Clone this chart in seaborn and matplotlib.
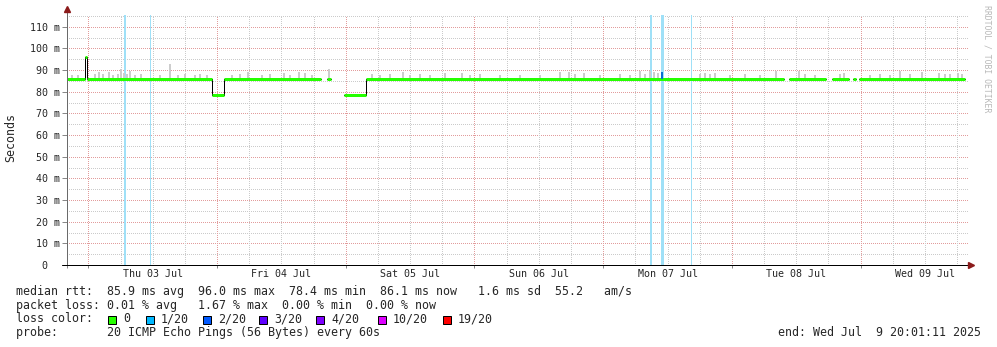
import numpy as np
import pandas as pd
import matplotlib
matplotlib.use("Agg")
import matplotlib.pyplot as plt
import seaborn as sns
from matplotlib.ticker import FixedLocator, FuncFormatter
from matplotlib.patches import Rectangle

# ---------------- data (hours since start = Wed 02 Jul 20:01:11) ----------------
seg_start_h = [0.0, 3.36, 3.73, 27.04, 29.28, 48.48, 51.65, 55.76, 134.64, 142.66, 146.57, 147.69]
seg_end_h = [3.36, 3.73, 27.04, 29.28, 47.37, 49.23, 55.76, 133.71, 141.54, 145.83, 147.13, 167.5]
seg_median_ms = [86.0, 96.0, 86.0, 78.4, 86.0, 86.0, 78.4, 86.0, 86.0, 86.0, 86.0, 86.0]

smoke_h = [0.93, 2.05, 5.22, 5.97, 6.71, 7.83, 8.58, 9.51, 10.07, 10.63, 11.19, 11.75, 12.68,
           13.80, 17.34, 19.21, 20.70, 22.00, 23.87, 24.80, 26.11, 30.77, 32.26, 33.75, 36.36,
           37.86, 40.47, 41.58, 43.26, 44.38, 45.69, 48.86, 56.88, 58.37, 60.23, 62.66, 63.96,
           65.83, 67.69, 70.49, 73.66, 75.15, 77.02, 80.75, 84.48, 88.20, 91.93, 93.61, 94.73,
           96.41, 99.39, 103.12, 104.99, 106.85, 107.79, 108.72, 109.46, 110.21, 118.04, 118.97,
           119.91, 120.84, 123.64, 126.43, 129.23, 132.21, 136.50, 137.62, 139.49, 144.15, 144.90,
           149.74, 151.61, 153.47, 155.34, 157.20, 159.44, 162.61, 163.73, 164.66, 166.15, 166.90]
smoke_top_ms = [87.8, 87.6, 88.2, 89.0, 88.0, 89.0, 87.7, 88.3, 90.7, 88.6, 88.0, 89.5, 87.8,
                88.2, 87.6, 93.0, 87.9, 88.1, 87.7, 88.0, 87.6, 87.9, 88.2, 89.0, 87.8,
                88.1, 88.5, 87.9, 89.0, 88.6, 87.8, 90.3, 88.0, 87.7, 88.1, 89.0, 87.8,
                88.2, 87.7, 88.5, 88.5, 87.8, 88.0, 87.6, 87.9, 87.7, 89.0, 89.0, 88.1,
                88.5, 87.8, 88.0, 87.7, 89.4, 88.3, 89.4, 89.0, 88.6, 88.2, 88.5,
                88.0, 88.4, 87.8, 88.0, 87.7, 89.4, 89.4, 88.0, 87.8, 88.3, 88.5,
                87.9, 88.1, 87.8, 89.4, 88.0, 89.0, 88.5, 88.2, 88.0, 88.5, 88.2]

loss_h = [10.8, 15.5, 108.9, 110.95, 116.5]
loss_frac = ["1/20", "1/20", "1/20", "1/20", "1/20"]

first_midnight_h = 3.98
day_labels = ["Thu 03 Jul", "Fri 04 Jul", "Sat 05 Jul", "Sun 06 Jul",
              "Mon 07 Jul", "Tue 08 Jul", "Wed 09 Jul"]
y_ticks_ms = [0, 10, 20, 30, 40, 50, 60, 70, 80, 90, 100, 110]

loss_labels = ["0", "1/20", "2/20", "3/20", "4/20", "10/20", "19/20"]
loss_colors = ["#26ff00", "#00b8ff", "#0059ff", "#5e00ff", "#7e00ff", "#dd00ff", "#ff0000"]

stat_lines = [
    "median rtt:  85.9 ms avg  96.0 ms max  78.4 ms min  86.1 ms now   1.6 ms sd  55.2   am/s",
    "packet loss: 0.01 % avg   1.67 % max  0.00 % min  0.00 % now",
    "loss color:",
    "probe:       20 ICMP Echo Pings (56 Bytes) every 60s",
]
end_text = "end: Wed Jul  9 20:01:11 2025"

# ---------------- style ----------------
sns.set_style("white")
plt.rcParams["font.family"] = ["DejaVu Sans Mono", "DejaVu Sans"]

W, H = 997, 347
fig = plt.figure(figsize=(W / 100, H / 100), dpi=100)
fig.patch.set_facecolor("white")
ax = fig.add_axes([67 / W, 82 / H, 901 / W, 250 / H])
ax.set_facecolor("white")
ax.set_xlim(0, 168)
ax.set_ylim(0, 115.4)
for s in ax.spines.values():
    s.set_visible(False)

px = 0.72  # one pixel in points
h_per_px = 168 / 901
pink = "#e29c9c"
grey = "#cbcbcb"
dot = (0, (1, 2))

# grid
ax.yaxis.set_major_locator(FixedLocator(y_ticks_ms))
ax.yaxis.set_minor_locator(FixedLocator([v + 5 for v in y_ticks_ms]))
ax.set_yticklabels([f"{v} m" if v else "0\u00a0\u00a0" for v in y_ticks_ms])
ax.grid(False)
for v in y_ticks_ms[1:]:
    ax.axhline(v, color=pink, lw=px, ls=dot, zorder=0, antialiased=False)
for v in y_ticks_ms:
    ax.axhline(v + 5, color=grey, lw=px, ls=dot, zorder=0, antialiased=False)

midnights = [first_midnight_h + 24 * k for k in range(7)]
sixes = [first_midnight_h + 6 * k for k in range(28) if k % 4 != 0 and first_midnight_h + 6 * k < 168]
for m in midnights:
    ax.axvline(m, color=pink, lw=px, ls=dot, zorder=0, antialiased=False)
for m in sixes:
    ax.axvline(m, color=grey, lw=px, ls=dot, zorder=0, antialiased=False)

ax.xaxis.set_major_locator(FixedLocator([0] + midnights))
ax.xaxis.set_major_formatter(FuncFormatter(lambda v, p: ""))
noons = [m + 12 for m in midnights]
ax.xaxis.set_minor_locator(FixedLocator(noons))
ax.xaxis.set_minor_formatter(FuncFormatter(lambda v, p: day_labels[int(round((v - first_midnight_h - 12) / 24))]))
ax.tick_params(axis="x", which="major", length=2.5, width=px, color="#888888", direction="out", bottom=True)
ax.tick_params(axis="x", which="minor", length=0, labelsize=7.2, pad=3, bottom=True)
ax.tick_params(axis="y", which="major", length=3.5, width=px, color="#888888", labelsize=7.2, pad=1.5, left=True)
ax.tick_params(axis="y", which="minor", length=0, left=False)

# loss background bands (width in pixels is a style choice)
loss_col = {"1/20": "#9fe0f7"}
widths_px = [1.2, 1.2, 1.2, 3, 1.2]
for h, f, w in zip(loss_h, loss_frac, widths_px):
    ax.axvspan(h - w * h_per_px / 2, h + w * h_per_px / 2, color=loss_col[f], lw=0,
               zorder=1, antialiased=True)

# smoke
ax.vlines(smoke_h, 86.0, smoke_top_ms, color="#cdcdcd", lw=2 * px, zorder=2)

# median segments
rows_step, rows_seg = [], []
run = 0
for i, (a, b, v) in enumerate(zip(seg_start_h, seg_end_h, seg_median_ms)):
    if i > 0 and abs(a - seg_end_h[i - 1]) > 1e-6:
        run += 1
    rows_step += [(a, v, run), (b, v, run)]
    rows_seg += [(a, v, i), (b, v, i)]
df_step = pd.DataFrame(rows_step, columns=["h", "ms", "unit"])
df_seg = pd.DataFrame(rows_seg, columns=["h", "ms", "unit"])

sns.lineplot(data=df_step, x="h", y="ms", units="unit", estimator=None, sort=False,
             color="black", linewidth=1 * px, legend=False, ax=ax, zorder=3)
sns.lineplot(data=df_seg, x="h", y="ms", units="unit", estimator=None, sort=False,
             color=loss_colors[0], linewidth=3 * px, legend=False, ax=ax, zorder=4,
             solid_capstyle="butt")
ax.vlines([110.95], 86.0, 89.0, color="#0a6fd0", lw=2 * px, zorder=5)
ax.set_xlabel("")
ax.set_ylabel("")

# axes lines and arrows
ax.plot([0, 0], [0, 1.024], transform=ax.transAxes, color="#6a6a6a", lw=px, clip_on=False, zorder=6)
ax.plot([-5 / 901, 1.0], [0, 0], transform=ax.transAxes, color="black", lw=px, clip_on=False, zorder=6)
ax.plot([0], [1.026], transform=ax.transAxes, marker="^", ms=4.5, color="#8b1a1a", clip_on=False, zorder=7)
ax.plot([1.003], [0], transform=ax.transAxes, marker=">", ms=4.5, color="#8b1a1a", clip_on=False, zorder=7)

# labels
def fx(x):
    return x / W

def fy(y):
    return 1 - y / H

fig.text(fx(11), fy(138), "Seconds", rotation=90, ha="center", va="center", fontsize=8.4)
fig.text(fx(987), fy(5), "RRDTOOL / TOBI OETIKER", rotation=270, ha="center", va="top",
         fontsize=5.9, color="#b8b8b8")

rows_y = [291.5, 305.3, 319.0, 332.8]
for t, y in zip(stat_lines, rows_y):
    fig.text(fx(16), fy(y), t, ha="left", va="center", fontsize=8.4)
fig.text(fx(981), fy(rows_y[3]), end_text, ha="right", va="center", fontsize=8.4)

box_x = [108, 146, 203, 259, 316, 378, 443]
for bx, lab, c in zip(box_x, loss_labels, loss_colors):
    fig.patches.append(Rectangle((fx(bx), fy(324)), 8 / W, 8 / H, transform=fig.transFigure,
                                 facecolor=c, edgecolor="black", lw=px))
    fig.text(fx(bx + 15), fy(rows_y[2]), lab, ha="left", va="center", fontsize=8.4)

fig.savefig("out.png", dpi=100, facecolor="white")
